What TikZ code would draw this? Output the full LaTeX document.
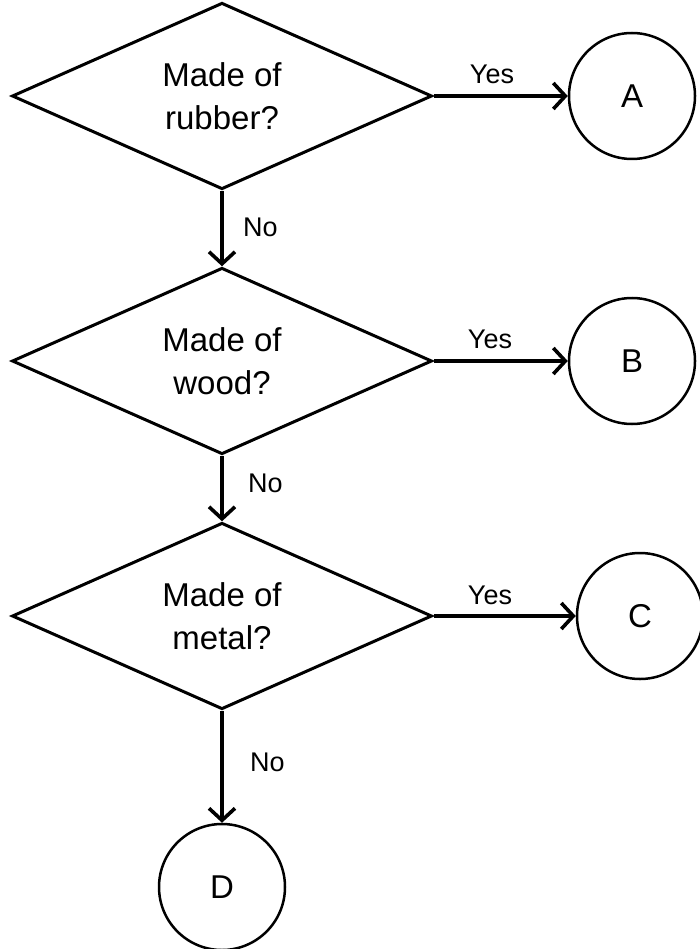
\documentclass[tikz,border=0pt]{standalone}
\usepackage{fontspec}
\setmainfont{Liberation Sans}
\usetikzlibrary{shapes.geometric,arrows.meta}
\tikzset{
  decision/.style={draw=black, line width=3pt, diamond, inner sep=0pt,
    minimum width=420pt, minimum height=180pt, align=center,
    font=\fontsize{33}{43}\selectfont, line join=miter},
  endcircle/.style={draw=black, line width=2.5pt, circle, inner sep=0pt,
    minimum size=126pt, font=\fontsize{33}{36}\selectfont},
  flow/.style={draw=black, line width=4pt,
    -{Straight Barb[length=12pt,width=26pt,line width=3.6pt]}},
  lbl/.style={font=\fontsize{27}{30}\selectfont, inner sep=0pt}
}
\begin{document}
\begin{tikzpicture}[x=1pt,y=-1pt]
\useasboundingbox (0,0) rectangle (700,949);
\node[decision] (d1) at (222,96) {Made of\\rubber?};
\node[decision] (d2) at (222,361) {Made of\\wood?};
\node[decision] (d3) at (222,616) {Made of\\metal?};
\node[endcircle] (a) at (632,96) {A};
\node[endcircle] (b) at (632,361) {B};
\node[endcircle] (c) at (640,616) {C};
\node[endcircle] (d) at (222,887) {D};
\draw[flow] (d1.east) -- (a.west);
\draw[flow] (d2.east) -- (b.west);
\draw[flow] (d3.east) -- (c.west);
\draw[flow] (d1.south) -- (d2.north);
\draw[flow] (d2.south) -- (d3.north);
\draw[flow] (d3.south) -- (d.north);
\node[lbl] (y1) at (492,74) {Yes};
\node[lbl] (y2) at (490,339) {Yes};
\node[lbl] (y3) at (490,595) {Yes};
\node[lbl, anchor=west] (n1) at (243,227) {No};
\node[lbl, anchor=west] (n2) at (248,483) {No};
\node[lbl, anchor=west] (n3) at (250,762) {No};
\end{tikzpicture}
\end{document}
